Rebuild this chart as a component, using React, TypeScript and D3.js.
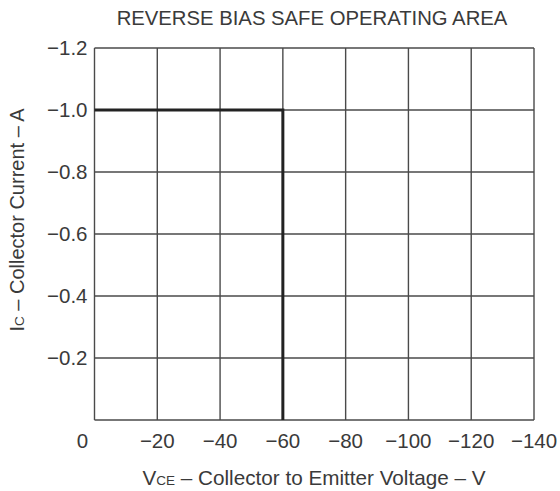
import React from 'react'
import * as d3 from 'd3'

// tick values
const voltageTicks = [0, -20, -40, -60, -80, -100, -120, -140]
const currentTicks = [0, -0.2, -0.4, -0.6, -0.8, -1.0, -1.2]

// safe operating area boundary (V, A)
const soaVoltage = [0, -60, -60]
const soaCurrent = [-1.0, -1.0, 0]

const width = 560,
    height = 491,
    left = 94.5,
    right = 534,
    top = 48,
    bottom = 420

const ink = '#3a3a3a'
const font = '"Liberation Sans", Arial, Helvetica, sans-serif'

export default function App() {
    const x = d3.scaleLinear([0, -140], [left, right])
    const y = d3.scaleLinear([0, -1.2], [bottom, top])

    const line = d3.line<number>()
        .x((d, i) => x(soaVoltage[i]))
        .y((d, i) => y(soaCurrent[i]))

    const fmtY = (v: number) => v === 0 ? '' : '\u2212' + Math.abs(v).toFixed(1)
    const fmtX = (v: number) => v === 0 ? '0' : '\u2212' + Math.abs(v)

    return <svg width={width} height={height} style={{ position: 'absolute', left: 0, top: 0, background: '#fff' }}
        fontFamily={font} fill={ink}>
        <text x={312} y={25} textAnchor="middle" fontSize={20.3}>REVERSE BIAS SAFE OPERATING AREA</text>

        {/* grid */}
        <g stroke="#4a4a4a" strokeWidth={1.4} fill="none">
            {voltageTicks.map(v => <line key={'v' + v} x1={x(v)} x2={x(v)} y1={top} y2={bottom} />)}
            {currentTicks.map(c => <line key={'c' + c} x1={left} x2={right} y1={y(c)} y2={y(c)} />)}
        </g>

        {/* boundary */}
        <path d={line(soaVoltage)} fill="none" stroke="#222" strokeWidth={3} />

        {/* y ticks */}
        <g fontSize={20.5} textAnchor="end">
            {currentTicks.map(c => <text key={c} x={left - 7} y={y(c)} dy="0.35em">{fmtY(c)}</text>)}
        </g>

        {/* x ticks */}
        <g fontSize={20.5} textAnchor="middle">
            {voltageTicks.map(v => <text key={v} x={v === 0 ? x(v) - 12 : x(v)} y={448}>{fmtX(v)}</text>)}
        </g>

        <text x={314} y={485} textAnchor="middle" fontSize={20.7}>
            V<tspan fontSize={13.5}>CE</tspan> – Collector to Emitter Voltage – V
        </text>
        <text transform={`translate(24, 220) rotate(-90)`} textAnchor="middle" fontSize={20}>
            I<tspan fontSize={13.5}>C</tspan> – Collector Current – A
        </text>
    </svg>
}
